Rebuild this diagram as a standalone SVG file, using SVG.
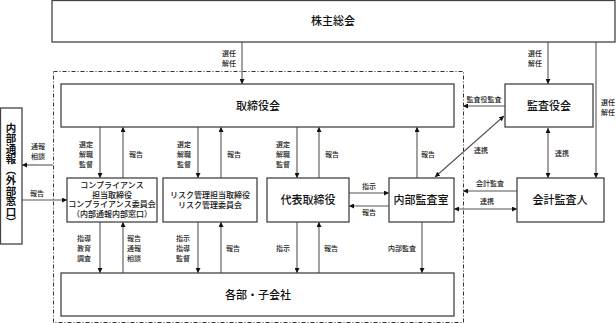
<svg xmlns="http://www.w3.org/2000/svg" width="616" height="323" viewBox="0 0 616 323">
<defs>
<marker id="ah" viewBox="0 0 6 6" refX="6" refY="3" markerWidth="5" markerHeight="5" orient="auto-start-reverse" markerUnits="userSpaceOnUse">
<path d="M0,0 L6,3 L0,6 z" fill="#111"/>
</marker>
<style>
.box{fill:#fff;stroke:#444;stroke-width:1.3}
.big{font-family:"Noto Sans CJK JP","Noto Sans",sans-serif;font-size:11px;font-weight:500;fill:#111;text-anchor:middle}
.mid{font-family:"Noto Sans CJK JP","Noto Sans",sans-serif;font-size:8px;font-weight:500;fill:#111;text-anchor:middle}
.sm{font-family:"Noto Sans CJK JP","Noto Sans",sans-serif;font-size:7px;font-weight:500;fill:#222;text-anchor:middle}
.vt{font-family:"Noto Sans CJK JP","Noto Sans",sans-serif;font-size:10.5px;font-weight:700;fill:#111;text-anchor:middle;writing-mode:vertical-rl}
.ln{fill:none;stroke:#555;stroke-width:1.1}
.ar{marker-end:url(#ah)}
.ar2{marker-start:url(#ah);marker-end:url(#ah)}
</style>
</defs>
<rect x="0" y="0" width="616" height="323" fill="#fff"/>
<path d="M53.5,71.5 H463.5 V322.5 H53.5 Z" fill="none" stroke="#333" stroke-width="1" stroke-dasharray="4,2,1,2"/>

<g id="connectors">
<path class="ln ar" d="M242,42 V84"/>
<path class="ln ar" d="M548,42 V84"/>
<path class="ln ar" d="M596,42 V178"/>
<path class="ln ar" d="M505,106 H463"/>
<path class="ln ar2" d="M435,177 L504,116"/>
<path class="ln ar2" d="M548,128 V178"/>
<path class="ln ar" d="M517,191 H463"/>
<path class="ln ar2" d="M454,209 H517"/>
<path class="ln ar" d="M349,193 H389"/>
<path class="ln ar" d="M389,206 H349"/>
<path class="ln ar" d="M53,165 H22"/>
<path class="ln ar" d="M22,200 H67"/>
<path class="ln ar" d="M100,127 V178"/>
<path class="ln ar" d="M123,178 V127"/>
<path class="ln ar" d="M198,127 V178"/>
<path class="ln ar" d="M221,178 V127"/>
<path class="ln ar" d="M297,127 V178"/>
<path class="ln ar" d="M319,178 V127"/>
<path class="ln ar" d="M417,178 V127"/>
<path class="ln ar" d="M100,222 V273"/>
<path class="ln ar" d="M123,273 V222"/>
<path class="ln ar" d="M198,222 V273"/>
<path class="ln ar" d="M221,273 V222"/>
<path class="ln ar" d="M297,222 V273"/>
<path class="ln ar" d="M319,273 V222"/>
<path class="ln ar" d="M422,222 V273"/>
<text class="sm" x="229" y="56">選任</text><text class="sm" x="229" y="66">解任</text>
<text class="sm" x="535" y="56">選任</text><text class="sm" x="535" y="66">解任</text>
<text class="sm" x="608" y="105">選任</text><text class="sm" x="608" y="115">解任</text>
<text class="sm" x="484" y="102">監査役監査</text>
<text class="sm" x="481" y="153">連携</text>
<text class="sm" x="562" y="156">連携</text>
<text class="sm" x="490" y="186">会計監査</text>
<text class="sm" x="487" y="204">連携</text>
<text class="sm" x="369" y="189">指示</text>
<text class="sm" x="369" y="215">報告</text>
<text class="sm" x="38" y="149">通報</text><text class="sm" x="38" y="159">相談</text>
<text class="sm" x="37" y="196">報告</text>
<text class="sm" x="86" y="147">選定</text><text class="sm" x="86" y="157">解職</text><text class="sm" x="86" y="167">監督</text>
<text class="sm" x="136" y="157">報告</text>
<text class="sm" x="184" y="147">選定</text><text class="sm" x="184" y="157">解職</text><text class="sm" x="184" y="167">監督</text>
<text class="sm" x="234" y="157">報告</text>
<text class="sm" x="283" y="147">選定</text><text class="sm" x="283" y="157">解職</text><text class="sm" x="283" y="167">監督</text>
<text class="sm" x="332" y="157">報告</text>
<text class="sm" x="428" y="157">報告</text>
<text class="sm" x="84" y="241">指導</text><text class="sm" x="84" y="251">教育</text><text class="sm" x="84" y="261">調査</text>
<text class="sm" x="134" y="241">報告</text><text class="sm" x="134" y="251">通報</text><text class="sm" x="134" y="261">相談</text>
<text class="sm" x="183" y="241">指示</text><text class="sm" x="183" y="251">指導</text><text class="sm" x="183" y="261">監督</text>
<text class="sm" x="233" y="251">報告</text>
<text class="sm" x="283" y="251">指示</text>
<text class="sm" x="331" y="251">報告</text>
<text class="sm" x="402" y="251">内部監査</text>
</g>

<g id="shareholders"><rect class="box" x="52" y="0.5" width="563" height="41.5"/><text class="big" x="333" y="25">株主総会</text></g>
<g id="board"><rect class="box" x="61" y="84" width="393" height="43"/><text class="big" x="258" y="110">取締役会</text></g>
<g id="auditors"><rect class="box" x="505" y="84" width="88" height="43"/><text class="big" x="549" y="110">監査役会</text></g>
<g id="accounting-auditor"><rect class="box" x="517" y="178" width="87" height="44"/><text class="big" x="560" y="204">会計監査人</text></g>
<g id="internal-audit"><rect class="box" x="389" y="178" width="65" height="44"/><text class="big" x="421" y="204">内部監査室</text></g>
<g id="representative"><rect class="box" x="267" y="178" width="82" height="44"/><text class="big" x="308" y="204">代表取締役</text></g>
<g id="compliance"><rect class="box" x="67" y="178" width="90" height="44"/>
<text class="mid" x="112" y="188">コンプライアンス</text>
<text class="mid" x="112" y="197.5">担当取締役</text>
<text class="mid" x="112" y="207">コンプライアンス委員会</text>
<text class="mid" x="112" y="216.5">（内部通報内部窓口）</text></g>
<g id="risk"><rect class="box" x="163" y="178" width="94" height="44"/>
<text class="mid" x="210" y="198">リスク管理担当取締役</text>
<text class="mid" x="210" y="207.5">リスク管理委員会</text></g>
<g id="departments"><rect class="box" x="61" y="273" width="393" height="43"/><text class="big" x="258" y="299">各部・子会社</text></g>
<g id="whistleblow"><rect class="box" x="0.5" y="108" width="21.5" height="136"/>
<text class="vt" x="11" y="175">内部通報（外部窓口）</text>
</g>
</svg>
